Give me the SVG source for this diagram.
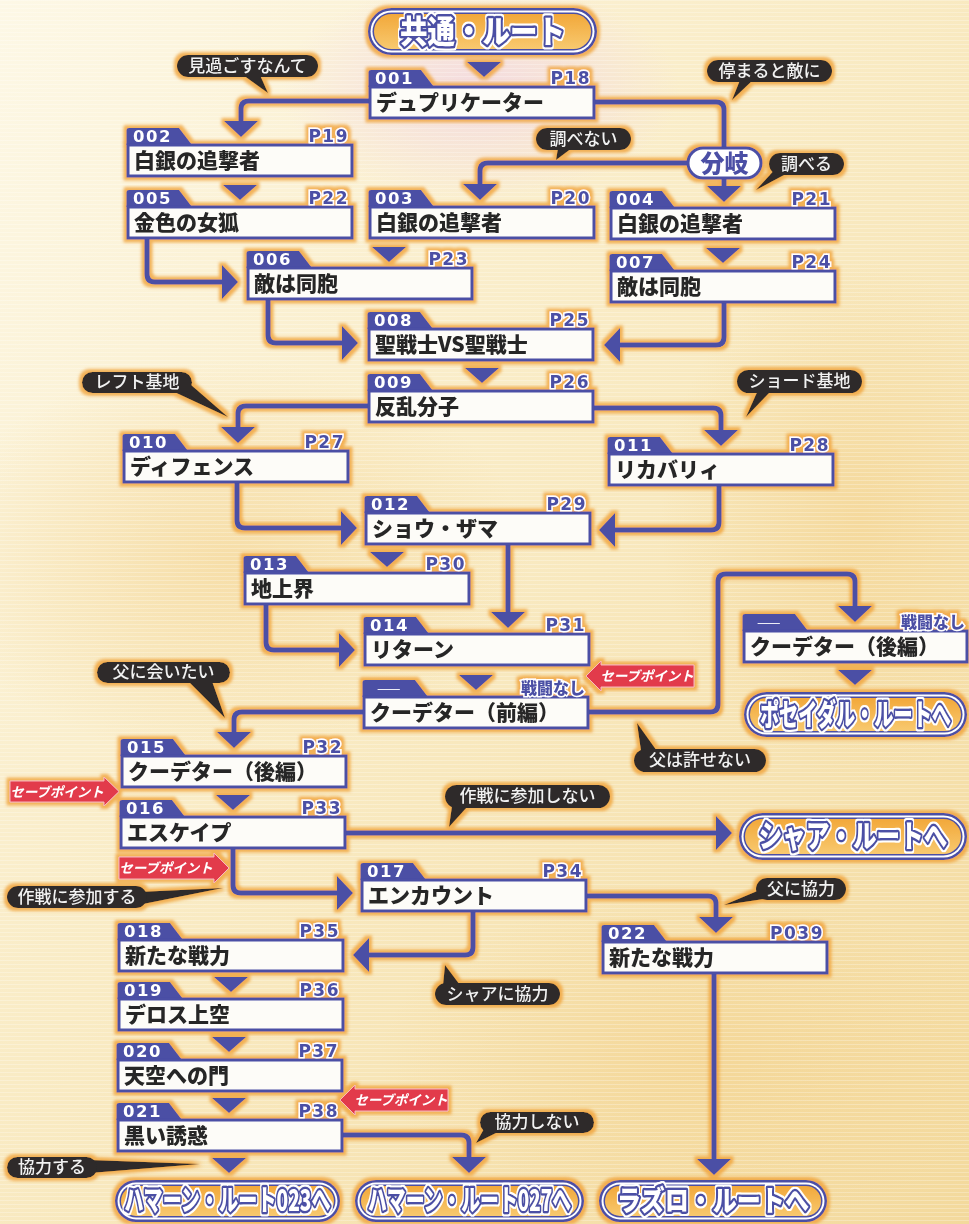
<svg xmlns="http://www.w3.org/2000/svg" width="969" height="1224" viewBox="0 0 969 1224">
<defs>
<linearGradient id="bg" x1="0" y1="0" x2="1" y2="1">
<stop offset="0" stop-color="#fdf8e6"/><stop offset="0.45" stop-color="#f9ebc4"/><stop offset="1" stop-color="#f3d99c"/>
</linearGradient>
<radialGradient id="blotA" cx="0.5" cy="0.5" r="0.5"><stop offset="0" stop-color="#f3d089" stop-opacity="0.55"/><stop offset="1" stop-color="#f3d089" stop-opacity="0"/></radialGradient>
<radialGradient id="blotP" cx="0.5" cy="0.5" r="0.5"><stop offset="0" stop-color="#f1d2e6" stop-opacity="0.7"/><stop offset="1" stop-color="#f1d2e6" stop-opacity="0"/></radialGradient>
<linearGradient id="og" x1="0" y1="0" x2="0" y2="1"><stop offset="0" stop-color="#f2a83a"/><stop offset="1" stop-color="#f8c96f"/></linearGradient>
<pattern id="lines" width="8" height="4" patternUnits="userSpaceOnUse"><rect width="8" height="1" fill="#ffffff" opacity="0.25"/></pattern>
<filter id="glow" filterUnits="userSpaceOnUse" x="0" y="0" width="969" height="1224">
<feMorphology in="SourceAlpha" operator="dilate" radius="2.5" result="d"/>
<feGaussianBlur in="d" stdDeviation="1.6" result="b"/>
<feFlood flood-color="#f0a238" flood-opacity="0.8"/>
<feComposite in2="b" operator="in" result="g"/>
<feMerge><feMergeNode in="g"/><feMergeNode in="SourceGraphic"/></feMerge>
</filter>
<filter id="wout" x="-5%" y="-20%" width="110%" height="140%">
<feMorphology in="SourceAlpha" operator="dilate" radius="1.6" result="d"/>
<feFlood flood-color="#ffffff"/>
<feComposite in2="d" operator="in" result="w"/>
<feMerge><feMergeNode in="w"/><feMergeNode in="SourceGraphic"/></feMerge>
</filter>
<marker id="ah" markerUnits="userSpaceOnUse" viewBox="0 0 16 34" refX="8" refY="17" markerWidth="16" markerHeight="34" orient="auto">
<path d="M0,0 L16,17 L0,34 Z" fill="#4b4fa5"/>
</marker>
<polygon id="tri" points="-17,0 17,0 0,15" fill="#4b4fa5"/>
<style>
.box{fill:#fdfcf8;stroke:#4b4fa5;stroke-width:3}
.tab{fill:#4b4fa5}
.id{font-family:"DejaVu Sans",sans-serif;font-weight:bold;font-size:16.5px;letter-spacing:1.5px;fill:#fff}
.pg{font-family:"DejaVu Sans",sans-serif;font-weight:bold;font-size:17px;letter-spacing:1.5px;fill:#4b4fa5;stroke:#fff;stroke-width:3;paint-order:stroke;text-anchor:end}
.nb{font-family:"Noto Sans CJK JP",sans-serif;font-weight:900;font-size:16px;fill:#4b4fa5;stroke:#fff;stroke-width:3;paint-order:stroke;text-anchor:end}
.dash{font-family:"Noto Sans CJK JP",sans-serif;font-size:14px;fill:#fff}
.ttl{font-family:"Noto Sans CJK JP",sans-serif;font-weight:900;font-size:21px;fill:#262626}
.con{fill:none;stroke:#4b4fa5;stroke-width:5;marker-end:url(#ah)}
.line{fill:none;stroke:#4b4fa5;stroke-width:5}
.bub{fill:#2d2b2b}
.btx{font-family:"Noto Sans CJK JP",sans-serif;font-weight:500;font-size:17px;fill:#f2f2f2;text-anchor:middle}
.sp{fill:#e23a4b;stroke:#f6b9bd;stroke-width:1}
.sptx{font-family:"Noto Sans CJK JP",sans-serif;font-weight:700;font-style:italic;font-size:13.5px;fill:#fff;text-anchor:middle}
.po{fill:#4b4fa5}.pw{fill:#fff}.pf{fill:url(#og)}
.ptx{font-family:"Noto Sans CJK JP",sans-serif;font-weight:900;fill:#fff;stroke:#4b4fa5;stroke-width:5;stroke-linejoin:round;paint-order:stroke;text-anchor:middle;filter:url(#wout)}
.bk{fill:#fff;stroke:#4b4fa5;stroke-width:3}
.bktx{font-family:"Noto Sans CJK JP",sans-serif;font-weight:900;font-size:24px;fill:#4b4fa5;text-anchor:middle}
</style>
</defs>

<rect x="0" y="0" width="969" height="1224" fill="url(#bg)"/>
<ellipse cx="480" cy="90" rx="200" ry="110" fill="url(#blotP)"/>
<ellipse cx="230" cy="560" rx="300" ry="200" fill="url(#blotA)"/>
<ellipse cx="700" cy="1060" rx="320" ry="170" fill="url(#blotA)"/>
<ellipse cx="860" cy="520" rx="200" ry="260" fill="url(#blotA)"/>
<rect x="0" y="0" width="969" height="1224" fill="url(#lines)"/>

<g filter="url(#glow)">

<g id="connectors">
<path class="con" d="M370,101 H249 Q241,101 241,109 V129"/>
<path class="line" d="M594,102 H716 Q724,102 724,110 V148"/>
<path class="con" d="M688,163 H488 Q480,163 480,171 V192"/>
<path class="con" d="M724,178 V194"/>
<path class="con" d="M147,237 V274 Q147,282 155,282 H230"/>
<path class="con" d="M268,299 V335 Q268,343 276,343 H350"/>
<path class="con" d="M724,302 V337 Q724,345 716,345 H612"/>
<path class="con" d="M369,406 H246 Q238,406 238,414 V435"/>
<path class="con" d="M593,408 H713 Q721,408 721,416 V438"/>
<path class="con" d="M237,482 V520 Q237,528 245,528 H349"/>
<path class="con" d="M719,485 V522 Q719,530 711,530 H607"/>
<path class="con" d="M508,544 V620"/>
<path class="con" d="M266,604 V642 Q266,650 274,650 H347"/>
<path class="con" d="M364,712 H242 Q234,712 234,720 V740"/>
<path class="con" d="M587,712 H710 Q718,712 718,704 V582 Q718,574 726,574 H847 Q855,574 855,582 V614"/>
<path class="con" d="M344,833 H724"/>
<path class="con" d="M233,848 V885 Q233,893 241,893 H345"/>
<path class="con" d="M473,911 V947 Q473,955 465,955 H361"/>
<path class="con" d="M585,896 H708 Q716,896 716,904 V925"/>
<path class="con" d="M343,1135 H461 Q469,1135 469,1143 V1165"/>
<path class="con" d="M714,973 V1167"/>
<use href="#tri" x="484" y="62"/>
<use href="#tri" x="240" y="185"/>
<use href="#tri" x="389" y="247"/>
<use href="#tri" x="723" y="248"/>
<use href="#tri" x="482" y="368"/>
<use href="#tri" x="387" y="552"/>
<use href="#tri" x="476" y="675"/>
<use href="#tri" x="855" y="670"/>
<use href="#tri" x="233" y="795"/>
<use href="#tri" x="231" y="977"/>
<use href="#tri" x="229" y="1037"/>
<use href="#tri" x="229" y="1098"/>
<use href="#tri" x="229" y="1158"/>
</g>

<g id="start">
<rect class="po" x="368" y="8" width="229" height="47" rx="23.5"/>
<rect class="pw" x="370.5" y="10.5" width="224" height="42" rx="21"/>
<rect class="po" x="372.5" y="12.5" width="220" height="38" rx="19"/>
<rect class="pf" x="374" y="14" width="217" height="35" rx="17.5"/>
<text class="ptx" transform="translate(482.5,43) scale(0.86,1)" x="0" y="0" font-size="32">共通・ルート</text>
</g>

<g id="n001"><path class="tab" d="M368.5,87V72Q368.5,70 371,70H421L434,87Z"/><rect class="box" x="370" y="87" width="224" height="31"/><text class="id" x="375" y="84">001</text><text class="pg" x="591" y="84">P18</text><text class="ttl" x="376" y="110">デュプリケーター</text></g>
<g id="n002"><path class="tab" d="M126.5,145V130Q126.5,128 129,128H179L192,145Z"/><rect class="box" x="128" y="145" width="224" height="31"/><text class="id" x="133" y="142">002</text><text class="pg" x="349" y="142">P19</text><text class="ttl" x="134" y="168">白銀の追撃者</text></g>
<g id="n005"><path class="tab" d="M126.5,207V192Q126.5,190 129,190H179L192,207Z"/><rect class="box" x="128" y="207" width="224" height="31"/><text class="id" x="133" y="204">005</text><text class="pg" x="349" y="204">P22</text><text class="ttl" x="134" y="230">金色の女狐</text></g>
<g id="n003"><path class="tab" d="M368.5,207V192Q368.5,190 371,190H421L434,207Z"/><rect class="box" x="370" y="207" width="224" height="31"/><text class="id" x="375" y="204">003</text><text class="pg" x="591" y="204">P20</text><text class="ttl" x="376" y="230">白銀の追撃者</text></g>
<g id="n004"><path class="tab" d="M609.5,208V193Q609.5,191 612,191H662L675,208Z"/><rect class="box" x="611" y="208" width="224" height="31"/><text class="id" x="616" y="205">004</text><text class="pg" x="832" y="205">P21</text><text class="ttl" x="617" y="231">白銀の追撃者</text></g>
<g id="n006"><path class="tab" d="M246.5,268V253Q246.5,251 249,251H299L312,268Z"/><rect class="box" x="248" y="268" width="224" height="31"/><text class="id" x="253" y="265">006</text><text class="pg" x="469" y="265">P23</text><text class="ttl" x="254" y="291">敵は同胞</text></g>
<g id="n007"><path class="tab" d="M609.5,271V256Q609.5,254 612,254H662L675,271Z"/><rect class="box" x="611" y="271" width="224" height="31"/><text class="id" x="616" y="268">007</text><text class="pg" x="832" y="268">P24</text><text class="ttl" x="617" y="294">敵は同胞</text></g>
<g id="n008"><path class="tab" d="M367.5,329V314Q367.5,312 370,312H420L433,329Z"/><rect class="box" x="369" y="329" width="224" height="31"/><text class="id" x="374" y="326">008</text><text class="pg" x="590" y="326">P25</text><text class="ttl" x="375" y="352">聖戦士VS聖戦士</text></g>
<g id="n009"><path class="tab" d="M367.5,391V376Q367.5,374 370,374H420L433,391Z"/><rect class="box" x="369" y="391" width="224" height="31"/><text class="id" x="374" y="388">009</text><text class="pg" x="590" y="388">P26</text><text class="ttl" x="375" y="414">反乱分子</text></g>
<g id="n010"><path class="tab" d="M122.5,451V436Q122.5,434 125,434H175L188,451Z"/><rect class="box" x="124" y="451" width="224" height="31"/><text class="id" x="129" y="448">010</text><text class="pg" x="345" y="448">P27</text><text class="ttl" x="130" y="474">ディフェンス</text></g>
<g id="n011"><path class="tab" d="M607.5,454V439Q607.5,437 610,437H660L673,454Z"/><rect class="box" x="609" y="454" width="224" height="31"/><text class="id" x="614" y="451">011</text><text class="pg" x="830" y="451">P28</text><text class="ttl" x="615" y="477">リカバリィ</text></g>
<g id="n012"><path class="tab" d="M364.5,513V498Q364.5,496 367,496H417L430,513Z"/><rect class="box" x="366" y="513" width="224" height="31"/><text class="id" x="371" y="510">012</text><text class="pg" x="587" y="510">P29</text><text class="ttl" x="372" y="536">ショウ・ザマ</text></g>
<g id="n013"><path class="tab" d="M243.5,573V558Q243.5,556 246,556H296L309,573Z"/><rect class="box" x="245" y="573" width="224" height="31"/><text class="id" x="250" y="570">013</text><text class="pg" x="466" y="570">P30</text><text class="ttl" x="251" y="596">地上界</text></g>
<g id="n014"><path class="tab" d="M363.5,634V619Q363.5,617 366,617H416L429,634Z"/><rect class="box" x="365" y="634" width="224" height="31"/><text class="id" x="370" y="631">014</text><text class="pg" x="586" y="631">P31</text><text class="ttl" x="371" y="657">リターン</text></g>
<g id="n_coup1"><path class="tab" d="M362.5,697V682Q362.5,680 365,680H415L428,697Z"/><rect class="box" x="364" y="697" width="224" height="31"/><text class="dash" x="377" y="693">——</text><text class="nb" x="585" y="694">戦闘なし</text><text class="ttl" x="370" y="720">クーデター（前編）</text></g>
<g id="n_coup2r"><path class="tab" d="M742.5,631V616Q742.5,614 745,614H795L808,631Z"/><rect class="box" x="744" y="631" width="223" height="31"/><text class="dash" x="757" y="627">——</text><text class="nb" x="965" y="628">戦闘なし</text><text class="ttl" x="750" y="654">クーデター（後編）</text></g>
<g id="n015"><path class="tab" d="M120.5,756V741Q120.5,739 123,739H173L186,756Z"/><rect class="box" x="122" y="756" width="224" height="31"/><text class="id" x="127" y="753">015</text><text class="pg" x="343" y="753">P32</text><text class="ttl" x="128" y="779">クーデター（後編）</text></g>
<g id="n016"><path class="tab" d="M119.5,817V802Q119.5,800 122,800H172L185,817Z"/><rect class="box" x="121" y="817" width="224" height="31"/><text class="id" x="126" y="814">016</text><text class="pg" x="342" y="814">P33</text><text class="ttl" x="127" y="840">エスケイプ</text></g>
<g id="n017"><path class="tab" d="M360.5,880V865Q360.5,863 363,863H413L426,880Z"/><rect class="box" x="362" y="880" width="224" height="31"/><text class="id" x="367" y="877">017</text><text class="pg" x="583" y="877">P34</text><text class="ttl" x="368" y="903">エンカウント</text></g>
<g id="n018"><path class="tab" d="M117.5,940V925Q117.5,923 120,923H170L183,940Z"/><rect class="box" x="119" y="940" width="224" height="31"/><text class="id" x="124" y="937">018</text><text class="pg" x="340" y="937">P35</text><text class="ttl" x="125" y="963">新たな戦力</text></g>
<g id="n019"><path class="tab" d="M117.5,999V984Q117.5,982 120,982H170L183,999Z"/><rect class="box" x="119" y="999" width="224" height="31"/><text class="id" x="124" y="996">019</text><text class="pg" x="340" y="996">P36</text><text class="ttl" x="125" y="1022">デロス上空</text></g>
<g id="n020"><path class="tab" d="M116.5,1060V1045Q116.5,1043 119,1043H169L182,1060Z"/><rect class="box" x="118" y="1060" width="224" height="31"/><text class="id" x="123" y="1057">020</text><text class="pg" x="339" y="1057">P37</text><text class="ttl" x="124" y="1083">天空への門</text></g>
<g id="n021"><path class="tab" d="M116.5,1120V1105Q116.5,1103 119,1103H169L182,1120Z"/><rect class="box" x="118" y="1120" width="224" height="31"/><text class="id" x="123" y="1117">021</text><text class="pg" x="339" y="1117">P38</text><text class="ttl" x="124" y="1143">黒い誘惑</text></g>
<g id="n022"><path class="tab" d="M601.5,942V927Q601.5,925 604,925H654L667,942Z"/><rect class="box" x="603" y="942" width="224" height="31"/><text class="id" x="608" y="939">022</text><text class="pg" x="824" y="939">P039</text><text class="ttl" x="609" y="965">新たな戦力</text></g>

<g id="branch"><rect class="bk" x="688" y="148" width="73" height="30" rx="15"/><text class="bktx" x="724.5" y="172">分岐</text></g>

<g id="route_poseidal">
<rect class="po" x="744" y="692" width="223" height="45" rx="22.5"/>
<rect class="pw" x="746.5" y="694.5" width="218" height="40" rx="20"/>
<rect class="po" x="748.5" y="696.5" width="214" height="36" rx="18"/>
<rect class="pf" x="750" y="698" width="211" height="33" rx="16.5"/>
<text class="ptx" transform="translate(855.5,725) scale(0.64,1)" x="0" y="0" font-size="30">ポセイダル・ルートへ</text>
</g>
<g id="route_char">
<rect class="po" x="739" y="813" width="228" height="47" rx="23.5"/>
<rect class="pw" x="741.5" y="815.5" width="223" height="42" rx="21"/>
<rect class="po" x="743.5" y="817.5" width="219" height="38" rx="19"/>
<rect class="pf" x="745" y="819" width="216" height="35" rx="17.5"/>
<text class="ptx" transform="translate(853,847) scale(0.76,1)" x="0" y="0" font-size="31">シャア・ルートへ</text>
</g>
<g id="route_haman023">
<rect class="po" x="115" y="1180" width="225" height="42" rx="21"/>
<rect class="pw" x="117.5" y="1182.5" width="220" height="37" rx="18.5"/>
<rect class="po" x="119.5" y="1184.5" width="216" height="33" rx="16.5"/>
<rect class="pf" x="121" y="1186" width="213" height="30" rx="15"/>
<text class="ptx" transform="translate(227.5,1211) scale(0.66,1)" x="0" y="0" font-size="29">ハマーン・ルート023へ</text>
</g>
<g id="route_haman027">
<rect class="po" x="355" y="1180" width="229" height="42" rx="21"/>
<rect class="pw" x="357.5" y="1182.5" width="224" height="37" rx="18.5"/>
<rect class="po" x="359.5" y="1184.5" width="220" height="33" rx="16.5"/>
<rect class="pf" x="361" y="1186" width="217" height="30" rx="15"/>
<text class="ptx" transform="translate(469.5,1211) scale(0.65,1)" x="0" y="0" font-size="29">ハマーン・ルート027へ</text>
</g>
<g id="route_lazlo">
<rect class="po" x="599" y="1180" width="228" height="42" rx="21"/>
<rect class="pw" x="601.5" y="1182.5" width="223" height="37" rx="18.5"/>
<rect class="po" x="603.5" y="1184.5" width="219" height="33" rx="16.5"/>
<rect class="pf" x="605" y="1186" width="216" height="30" rx="15"/>
<text class="ptx" transform="translate(713,1211) scale(0.83,1)" x="0" y="0" font-size="29">ラズロ・ルートへ</text>
</g>

<g id="labels">
<g><polygon class="bub" points="243,75 260,75 268,93"/><rect class="bub" x="177" y="55" width="141" height="22" rx="11"/><text class="btx" x="247.5" y="72">見過ごすなんて</text></g>
<g><polygon class="bub" points="740,80 753,80 732,100"/><rect class="bub" x="707" y="60" width="125" height="22" rx="11"/><text class="btx" x="769.5" y="77">停まると敵に</text></g>
<g><polygon class="bub" points="558,148 572,148 556,160"/><rect class="bub" x="536" y="128" width="95" height="22" rx="11"/><text class="btx" x="583.5" y="145">調べない</text></g>
<g><polygon class="bub" points="778,166 786,174 756,190"/><rect class="bub" x="769" y="153" width="75" height="22" rx="11"/><text class="btx" x="806.5" y="170">調べる</text></g>
<g><polygon class="bub" points="170,390 190,384 228,417"/><rect class="bub" x="82" y="372" width="110" height="21" rx="10.5"/><text class="btx" x="137" y="388">レフト基地</text></g>
<g><polygon class="bub" points="758,390 772,390 746,417"/><rect class="bub" x="737" y="370" width="125" height="23" rx="11.5"/><text class="btx" x="799.5" y="387">ショード基地</text></g>
<g><polygon class="bub" points="188,681 212,681 225,718"/><rect class="bub" x="97" y="662" width="133" height="21" rx="10.5"/><text class="btx" x="163.5" y="678">父に会いたい</text></g>
<g><polygon class="bub" points="641,751 657,751 637,723"/><rect class="bub" x="634" y="749" width="132" height="23" rx="11.5"/><text class="btx" x="700" y="766">父は許せない</text></g>
<g><polygon class="bub" points="452,806 468,806 449,827"/><rect class="bub" x="445" y="785" width="165" height="23" rx="11.5"/><text class="btx" x="527.5" y="802">作戦に参加しない</text></g>
<g><polygon class="bub" points="138,892 138,905 223,888"/><rect class="bub" x="7" y="886" width="140" height="22" rx="11"/><text class="btx" x="77" y="903">作戦に参加する</text></g>
<g><polygon class="bub" points="762,889 764,899 724,905"/><rect class="bub" x="756" y="878" width="90" height="22" rx="11"/><text class="btx" x="801" y="895">父に協力</text></g>
<g><polygon class="bub" points="443,985 460,985 445,965"/><rect class="bub" x="435" y="983" width="125" height="22" rx="11"/><text class="btx" x="497.5" y="1000">シャアに協力</text></g>
<g><polygon class="bub" points="90,1160 90,1173 200,1164"/><rect class="bub" x="7" y="1157" width="90" height="21" rx="10.5"/><text class="btx" x="52" y="1173">協力する</text></g>
<g><polygon class="bub" points="485,1127 498,1132 476,1143"/><rect class="bub" x="480" y="1112" width="114" height="21" rx="10.5"/><text class="btx" x="537" y="1128">協力しない</text></g>
</g>

<g id="savepoints">
<g><path class="sp" d="M10,781 H104 V777 L119,791.5 L104,806 V802 H10 Z"/><text class="sptx" x="57" y="797">セーブポイント</text></g>
<g><path class="sp" d="M119,857 H214 V853 L229,868 L214,883 V879 H119 Z"/><text class="sptx" x="166" y="873">セーブポイント</text></g>
<g><path class="sp" d="M694,665 H601 V661 L586,676 L601,691 V687 H694 Z"/><text class="sptx" x="647" y="681">セーブポイント</text></g>
<g><path class="sp" d="M448,1089 H355 V1085 L340,1100 L355,1115 V1111 H448 Z"/><text class="sptx" x="401" y="1105">セーブポイント</text></g>
</g>

</g>
</svg>
